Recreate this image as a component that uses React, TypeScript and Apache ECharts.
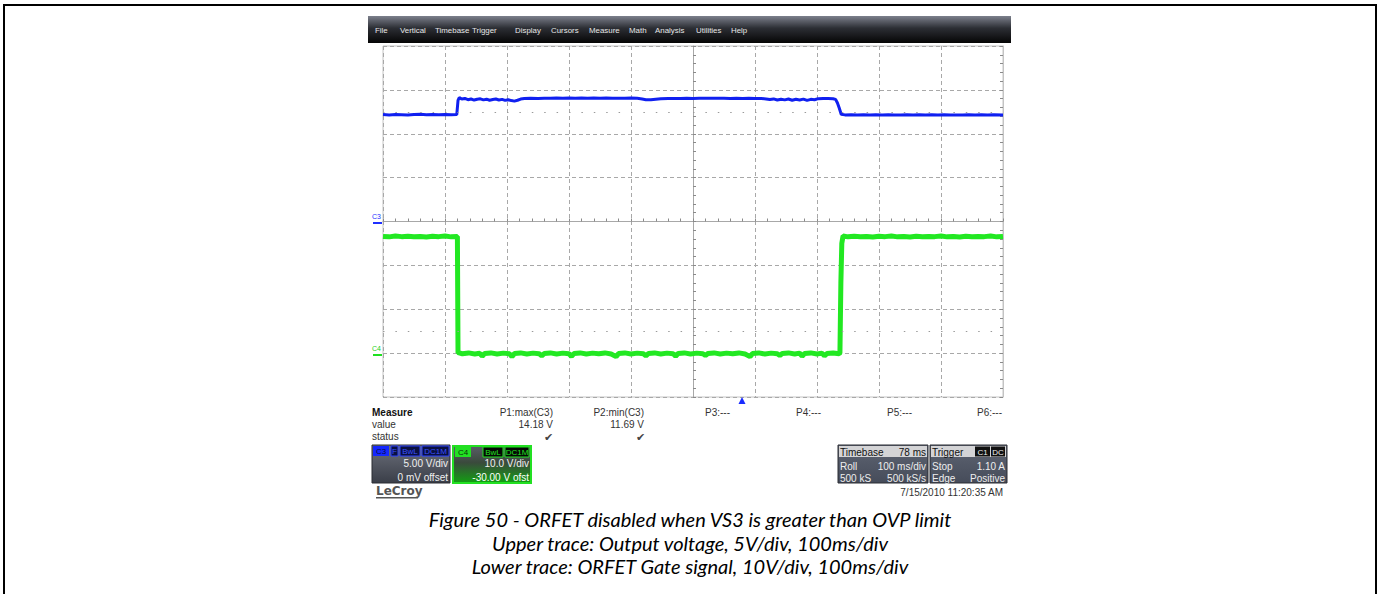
import React, { useEffect, useRef } from "react";
import * as echarts from "echarts";

// ---------- data ----------
const menuItems = ["File", "Vertical", "Timebase", "Trigger", "Display", "Cursors", "Measure", "Math", "Analysis", "Utilities", "Help"];
const captionLines = [
  "Figure 50 - ORFET disabled when VS3 is greater than OVP limit",
  "Upper trace: Output voltage, 5V/div, 100ms/div",
  "Lower trace: ORFET Gate signal, 10V/div, 100ms/div",
];
const measureNames = ["P1:max(C3)", "P2:min(C3)", "P3:---", "P4:---", "P5:---", "P6:---"];
const measureValues = ["14.18 V", "11.69 V"];
const timebaseInfo = ["Timebase", "78 ms", "Roll", "100 ms/div", "500 kS", "500 kS/s"];
const triggerInfo = ["Trigger", "Stop", "1.10 A", "Edge", "Positive"];
const dateStamp = "7/15/2010 11:20:35 AM";

// time in ms (-500..500), volts
const c3Trace: number[][] = [
  [-500, 12.18], [-490, 12.15], [-480, 12.2], [-470, 12.17], [-460, 12.13], [-450, 12.19], [-440, 12.21], [-430, 12.16],
  [-420, 12.19], [-410, 12.17], [-400, 12.2], [-390, 12.16], [-381, 12.19],
  [-379, 13.8], [-377, 14.12], [-373, 13.95], [-368, 14.02], [-363, 13.88], [-358, 13.96], [-353, 13.84], [-348, 13.93],
  [-343, 13.98], [-338, 13.86], [-333, 13.94], [-328, 13.82], [-323, 13.9], [-318, 13.96], [-313, 13.85], [-308, 13.92],
  [-303, 13.8], [-298, 13.88], [-293, 13.78], [-288, 13.72], [-283, 13.82], [-278, 13.95], [-272, 14.02], [-262, 14.04],
  [-250, 14.03], [-240, 14.05], [-230, 14.04], [-220, 14.06], [-210, 14.05], [-200, 14.07], [-190, 14.05], [-180, 14.06],
  [-170, 14.04], [-160, 14.06], [-150, 14.05], [-140, 14.06], [-130, 14.04], [-120, 14.05], [-110, 14.05], [-100, 14.06],
  [-90, 14.04], [-82, 13.97], [-76, 13.88], [-68, 13.87], [-60, 13.94], [-52, 13.99], [-40, 14.02], [-30, 14.03],
  [-20, 14.02], [-10, 14.04], [0, 14.03], [10, 14.05], [20, 14.04], [30, 14.05], [40, 14.04], [50, 14.05], [60, 14.03],
  [70, 14.04], [80, 14.03], [90, 14.04], [100, 14.03], [110, 14.02], [118, 13.97], [124, 13.9], [130, 13.97],
  [136, 13.84], [142, 13.94], [148, 13.86], [154, 13.96], [160, 13.82], [166, 13.93], [172, 13.85], [178, 13.95],
  [184, 13.8], [190, 13.92], [196, 13.87], [202, 14.0], [210, 14.02], [218, 14.01], [226, 13.99], [230, 13.92],
  [233, 13.5], [236, 12.9], [239, 12.22],
  [245, 12.15], [255, 12.17], [265, 12.13], [275, 12.16], [285, 12.14], [295, 12.16], [305, 12.14], [315, 12.16],
  [325, 12.15], [335, 12.13], [345, 12.16], [355, 12.14], [365, 12.17], [375, 12.14], [385, 12.16], [395, 12.14],
  [405, 12.16], [415, 12.14], [425, 12.15], [435, 12.13], [445, 12.16], [455, 12.14], [465, 12.16], [475, 12.14],
  [485, 12.16], [500, 12.15],
];

const c4Trace: number[][] = [
  [-500, 26.6], [-490, 26.5], [-480, 26.7], [-470, 26.55], [-460, 26.65], [-450, 26.5], [-440, 26.6], [-430, 26.45],
  [-420, 26.65], [-410, 26.55], [-400, 26.7], [-390, 26.5], [-380, 26.6], [-379.5, 26.5], [-379, 0.1],
  [-372, -0.15], [-362, 0.05], [-352, -0.2], [-344, -0.05], [-340, -0.7], [-336, -0.1], [-326, 0.05], [-316, -0.2],
  [-306, 0.0], [-296, -0.15], [-292, -0.8], [-288, -0.1], [-278, 0.05], [-268, -0.2], [-258, 0.0], [-248, -0.15],
  [-244, -0.6], [-240, -0.1], [-230, 0.05], [-220, -0.2], [-210, 0.0], [-200, -0.15], [-196, -0.75], [-192, -0.1],
  [-182, 0.05], [-172, -0.2], [-162, 0.0], [-152, -0.15], [-142, 0.05], [-132, -0.2], [-124, -0.8], [-120, -0.1],
  [-110, 0.05], [-100, -0.2], [-90, 0.0], [-80, -0.15], [-76, -0.6], [-72, -0.1], [-62, 0.05], [-52, -0.2],
  [-42, 0.0], [-32, -0.15], [-28, -0.7], [-24, -0.1], [-14, 0.05], [-4, -0.2], [6, 0.0], [16, -0.15],
  [20, -0.55], [24, -0.1], [34, 0.05], [44, -0.2], [54, 0.0], [64, -0.15], [74, 0.05], [84, -0.2],
  [92, -0.8], [96, -0.1], [106, 0.05], [116, -0.2], [126, 0.0], [136, -0.15], [140, -0.55], [144, -0.1],
  [154, 0.05], [164, -0.2], [172, 0.0], [176, -0.7], [180, -0.1], [190, 0.05], [200, -0.2], [208, 0.0],
  [212, -0.6], [216, -0.1], [226, 0.05], [236, -0.15],
  [237, 0.1], [238.5, 16], [240, 25], [242, 26.7],
  [250, 26.5], [260, 26.65], [270, 26.5], [280, 26.6], [290, 26.45], [300, 26.65], [310, 26.55], [320, 26.7],
  [330, 26.5], [340, 26.6], [350, 26.45], [360, 26.65], [370, 26.5], [380, 26.6], [390, 26.55], [400, 26.7],
  [410, 26.5], [420, 26.6], [430, 26.45], [440, 26.65], [450, 26.5], [460, 26.6], [470, 26.55], [480, 26.7],
  [490, 26.5], [500, 26.6],
];

const dottedRows = [12.5, -12.5];

// ---------- layout helpers ----------
const UI_FONT = "Liberation Sans, Arial, sans-serif";

function txt(x: number, y: number, text: string, opts: any = {}) {
  return {
    type: "text",
    x,
    y,
    silent: true,
    style: {
      text,
      fill: opts.fill || "#333",
      fontSize: opts.size || 10,
      fontFamily: opts.family || UI_FONT,
      fontWeight: opts.weight || "normal",
      fontStyle: opts.style || "normal",
      textAlign: opts.align || "left",
      textVerticalAlign: "middle",
    },
    z: 100,
  };
}
function box(x: number, y: number, w: number, h: number, fill: any, stroke?: string, lw = 1) {
  return {
    type: "rect",
    silent: true,
    shape: { x, y, width: w, height: h },
    style: { fill, stroke: stroke || "none", lineWidth: lw },
    z: 90,
  };
}
function chip(x: number, y: number, w: number, label: string, bg: string, fg: string, border?: string) {
  return [
    box(x, y, w, 10, bg, border || "none", 1),
    txt(x + w / 2, y + 5.5, label, { fill: fg, size: 8, align: "center" }),
  ];
}

export default function App() {
  const ref = useRef<HTMLDivElement>(null);
  useEffect(() => {
    if (!ref.current) return;
    const chart = echarts.init(ref.current, undefined, { renderer: "svg" });

    const menuX = [375, 400, 435, 472, 515, 551, 589, 629, 655, 696, 731];
    const measX = [553, 644, 705, 796, 887, 977];
    const grey = (a: string, b: string) =>
      new echarts.graphic.LinearGradient(0, 0, 0, 1, [
        { offset: 0, color: a },
        { offset: 1, color: b },
      ]);

    const graphics: any[] = [];
    // outer frame
    graphics.push({
      type: "rect", silent: true, shape: { x: 4, y: 5, width: 1372, height: 600 },
      style: { fill: "none", stroke: "#000", lineWidth: 2 }, z: 1,
    });
    // menu bar
    graphics.push(box(368, 16, 643, 27, new echarts.graphic.LinearGradient(0, 0, 0, 1, [
      { offset: 0, color: "#7c808c" },
      { offset: 0.45, color: "#2c2e34" },
      { offset: 1, color: "#050505" },
    ])));
    menuItems.forEach((m, i) => graphics.push(txt(menuX[i], 30, m, { fill: "#e6e6e6", size: 7.9 })));

    // channel markers
    graphics.push(txt(372, 216, "C3", { fill: "#2030ff", size: 7 }));
    graphics.push(box(373, 222, 9, 2, "#2030ff"));
    graphics.push(txt(372, 348, "C4", { fill: "#20d020", size: 7 }));
    graphics.push(box(373, 354, 9, 2, "#20e020"));

    // trigger marker
    graphics.push({
      type: "polygon", silent: true, shape: { points: [[738.5, 404], [745.5, 404], [742, 397]] },
      style: { fill: "#1a2cff" }, z: 95,
    });

    // measure table
    graphics.push(txt(372, 412, "Measure", { weight: "bold", fill: "#111" }));
    graphics.push(txt(372, 424, "value"));
    graphics.push(txt(372, 436, "status"));
    measureNames.forEach((m, i) =>
      graphics.push(txt(measX[i], 412, m, { align: i < 2 ? "right" : "left" }))
    );
    measureValues.forEach((v, i) => graphics.push(txt(measX[i], 424, v, { align: "right" })));
    [548, 640].forEach((x) => graphics.push(txt(x, 437, "✔", { align: "center", size: 11, fill: "#444" })));

    // C3 box
    graphics.push(box(372, 445, 78, 38, grey("#6c707b", "#3a3e48"), "#2a2d33"));
    graphics.push(...chip(373, 446, 16, "C3", "#1428ff", "#0a0a40"));
    graphics.push(...chip(391, 446, 7, "F", "#0a1040", "#3a50ff", "#2a40ff"));
    graphics.push(...chip(400, 446, 20, "BwL", "#0a1040", "#3a50ff", "#2a40ff"));
    graphics.push(...chip(422, 446, 27, "DC1M", "#0a1040", "#3a50ff", "#2a40ff"));
    graphics.push(txt(448, 463, "5.00 V/div", { fill: "#f0f0f0", align: "right" }));
    graphics.push(txt(448, 477, "0 mV offset", { fill: "#f0f0f0", align: "right" }));

    // C4 box
    graphics.push(box(453, 446, 78, 37, new echarts.graphic.LinearGradient(0, 0, 0, 1, [
      { offset: 0, color: "#5a5e68" },
      { offset: 0.45, color: "#3a4a3c" },
      { offset: 1, color: "#12a012" },
    ]), "#22e022", 2));
    graphics.push(...chip(455, 447, 16, "C4", "#22e022", "#0a300a"));
    graphics.push(...chip(483, 447, 20, "BwL", "#050805", "#22e022", "#22e022"));
    graphics.push(...chip(505, 447, 24, "DC1M", "#050805", "#22e022", "#22e022"));
    graphics.push(txt(529, 463, "10.0 V/div", { fill: "#f0f0f0", align: "right" }));
    graphics.push(txt(529, 477, "-30.00 V ofst", { fill: "#ffffff", align: "right" }));

    // Timebase box
    graphics.push(box(838, 445, 90, 38, grey("#5e6472", "#464c5a"), "#2a2d33"));
    graphics.push(box(839, 446, 88, 11, "#d4d4d6"));
    graphics.push(txt(840, 452, timebaseInfo[0], { fill: "#111" }));
    graphics.push(txt(926, 452, timebaseInfo[1], { fill: "#111", align: "right" }));
    graphics.push(txt(840, 466, timebaseInfo[2], { fill: "#eee" }));
    graphics.push(txt(926, 466, timebaseInfo[3], { fill: "#eee", align: "right" }));
    graphics.push(txt(840, 478, timebaseInfo[4], { fill: "#eee" }));
    graphics.push(txt(926, 478, timebaseInfo[5], { fill: "#eee", align: "right" }));

    // Trigger box
    graphics.push(box(930, 445, 77, 38, grey("#5e6472", "#464c5a"), "#2a2d33"));
    graphics.push(box(931, 446, 75, 11, "#d4d4d6"));
    graphics.push(txt(932, 452, triggerInfo[0], { fill: "#111" }));
    graphics.push(...chip(975, 446.5, 15, "C1", "#111", "#f0f0f0"));
    graphics.push(...chip(991, 446.5, 14, "DC", "#111", "#f0f0f0"));
    graphics.push(txt(932, 466, triggerInfo[1], { fill: "#eee" }));
    graphics.push(txt(1005, 466, triggerInfo[2], { fill: "#eee", align: "right" }));
    graphics.push(txt(932, 478, triggerInfo[3], { fill: "#eee" }));
    graphics.push(txt(1005, 478, triggerInfo[4], { fill: "#eee", align: "right" }));

    // date
    graphics.push(txt(1003, 492, dateStamp, { align: "right", fill: "#333" }));

    // LeCroy logo
    graphics.push(txt(376, 491, "LeCroy", { fill: "#555", size: 12, weight: "bold", family: "DejaVu Sans, sans-serif" }));
    graphics.push(box(376, 497, 42, 1.5, "#555"));

    // caption
    captionLines.forEach((c, i) =>
      graphics.push(txt(690, 519 + i * 23.5, c, { fill: "#000", size: 20, style: "italic", family: "Lato, sans-serif", align: "center" }))
    );

    const splitStyle = { color: "#a8a8a8", type: [4, 3] as any, width: 1 };

    chart.setOption({
      animation: false,
      backgroundColor: "#ffffff",
      grid: {
        left: 383, top: 46, width: 620, height: 351,
        show: true, borderColor: "#c4c4c4", borderWidth: 1, backgroundColor: "#ffffff",
      },
      xAxis: {
        type: "value", min: -500, max: 500, interval: 100,
        axisLine: { show: true, onZero: true, lineStyle: { color: "#a8a8a8", width: 1 } },
        axisTick: { show: true, length: 3, inside: true, lineStyle: { color: "#8a8a8a" } },
        minorTick: { show: true, splitNumber: 5, length: 3, lineStyle: { color: "#8a8a8a" } },
        axisLabel: { show: false },
        splitLine: { show: true, lineStyle: splitStyle },
      },
      yAxis: [
        {
          type: "value", min: -20, max: 20, interval: 5,
          axisLine: { show: true, onZero: true, lineStyle: { color: "#a8a8a8", width: 1 } },
          axisTick: { show: true, length: 3, inside: true, lineStyle: { color: "#8a8a8a" } },
          minorTick: { show: true, splitNumber: 5, length: 3, lineStyle: { color: "#8a8a8a" } },
          axisLabel: { show: false },
          splitLine: { show: true, lineStyle: splitStyle },
        },
        {
          type: "value", min: -10, max: 70, interval: 10, position: "right",
          axisLine: { show: true, onZero: false, lineStyle: { color: "#c4c4c4", width: 1 } },
          axisTick: { show: true, length: 3, inside: true, lineStyle: { color: "#8a8a8a" } },
          minorTick: { show: true, splitNumber: 5, length: 3, lineStyle: { color: "#8a8a8a" } },
          axisLabel: { show: false },
          splitLine: { show: false },
        },
      ],
      graphic: { elements: graphics },
      series: [
        {
          name: "grid dots", type: "line", yAxisIndex: 0, data: [], silent: true,
          markLine: {
            silent: true, symbol: "none", label: { show: false },
            lineStyle: { color: "#9a9a9a", type: [1.5, 10.9], width: 1 },
            data: dottedRows.map((v) => ({ yAxis: v })),
          },
        },
        {
          name: "C4", type: "line", yAxisIndex: 1, data: c4Trace, showSymbol: false, symbol: "none",
          lineStyle: { color: "#22e822", width: 5 }, z: 3,
        },
        {
          name: "C3", type: "line", yAxisIndex: 0, data: c3Trace, showSymbol: false, symbol: "none",
          lineStyle: { color: "#1020f0", width: 3 }, z: 4,
        },
      ],
    });
    return () => chart.dispose();
  }, []);

  return (
    <div
      ref={ref}
      style={{ position: "fixed", left: 0, top: 0, width: 1377, height: 594, background: "#fff" }}
    />
  );
}
